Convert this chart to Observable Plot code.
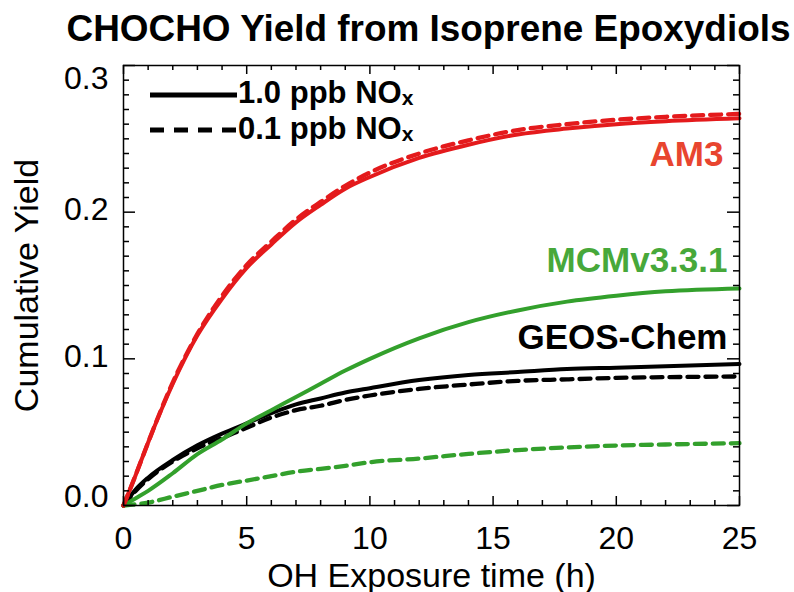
<!DOCTYPE html>
<html><head><meta charset="utf-8">
<script src="https://cdn.jsdelivr.net/npm/d3@7"></script>
<script src="https://cdn.jsdelivr.net/npm/@observablehq/plot@0.6"></script>
<style>body{margin:0;background:#fff;}</style>
</head><body><div id="chart"></div>
<script>
// ---- data ----
const titleText = "CHOCHO Yield from Isoprene Epoxydiols";
const xLabel = "OH Exposure time (h)";
const yLabel = "Cumulative Yield";
const times = [0, 0.5, 1, 2, 3, 4, 5, 6, 7, 8, 9, 10, 12, 14, 16, 18, 20, 22, 25];
const am3High  = [0, 0.021, 0.043, 0.083, 0.116, 0.141, 0.162, 0.178, 0.193, 0.205, 0.216, 0.224, 0.237, 0.246, 0.253, 0.257, 0.260, 0.262, 0.264];
const am3Low   = [0, 0.021, 0.043, 0.084, 0.117, 0.143, 0.164, 0.180, 0.195, 0.207, 0.218, 0.227, 0.240, 0.249, 0.256, 0.260, 0.263, 0.265, 0.267];
const mcmHigh  = [0, 0.005, 0.010, 0.022, 0.035, 0.045, 0.056, 0.065, 0.074, 0.083, 0.092, 0.100, 0.114, 0.125, 0.133, 0.139, 0.143, 0.146, 0.148];
const mcmLow   = [0, 0.0008, 0.002, 0.006, 0.010, 0.014, 0.017, 0.020, 0.023, 0.025, 0.027, 0.0295, 0.032, 0.0352, 0.0378, 0.0396, 0.0409, 0.0416, 0.0425];
const geosHigh = [0, 0.011, 0.019, 0.031, 0.041, 0.049, 0.056, 0.063, 0.069, 0.073, 0.077, 0.080, 0.0855, 0.089, 0.091, 0.093, 0.094, 0.095, 0.0965];
const geosLow  = [0, 0.010, 0.018, 0.030, 0.039, 0.046, 0.053, 0.060, 0.065, 0.068, 0.072, 0.075, 0.0795, 0.0825, 0.085, 0.086, 0.087, 0.0875, 0.088];
const modelNames = ["AM3", "MCMv3.3.1", "GEOS-Chem"];
const legendLabels = ["1.0 ppb NO", "0.1 ppb NO"];
const legendSub = "x";
const xMajor = [0, 5, 10, 15, 20, 25];
const yMajor = [0.0, 0.1, 0.2, 0.3];

// ---- styles / layout ----
const RED = "#e41a1c", GREEN = "#33a02c", BLACK = "#000";
const RED_LABEL = "#e8452f", GREEN_LABEL = "#47a83a";
const DASH = "11,7";
const FONT = "'Liberation Sans', Arial, Helvetica, sans-serif";
const W = 794, H = 592, ML = 123, MR = 55, MT = 65, MB = 87;
const X_DOMAIN = [0, 25], Y_DOMAIN = [0, 0.3];
// tick lengths expressed in data units per pixel of the frame
const PX_X = (X_DOMAIN[1] - X_DOMAIN[0]) / (W - ML - MR);
const PX_Y = (Y_DOMAIN[1] - Y_DOMAIN[0]) / (H - MT - MB);
const TICK_W = 1.5;

const series = [
  {name: "GEOS-Chem high", values: geosHigh, color: BLACK, dash: null},
  {name: "GEOS-Chem low",  values: geosLow,  color: BLACK, dash: DASH},
  {name: "MCM high",       values: mcmHigh,  color: GREEN, dash: null},
  {name: "MCM low",        values: mcmLow,   color: GREEN, dash: DASH},
  {name: "AM3 high",       values: am3High,  color: RED,   dash: null},
  {name: "AM3 low",        values: am3Low,   color: RED,   dash: DASH}
];
const rows = series.flatMap(s => times.map((t, i) => ({t, v: s.values[i], name: s.name})));

const xMinor = d3.range(0, 26).filter(d => !xMajor.includes(d));
const yMinor = d3.range(1, 30).filter(d => d % 10 !== 0).map(d => d / 100);
const xTickRows = [...xMajor.map(v => ({v, len: 9})), ...xMinor.map(v => ({v, len: 5}))];
const yTickRows = [...yMajor.map(v => ({v, len: 12})), ...yMinor.map(v => ({v, len: 6}))];

const chart = Plot.plot({
  width: W, height: H,
  marginLeft: ML, marginRight: MR, marginTop: MT, marginBottom: MB,
  style: {fontFamily: FONT, background: "#fff", color: "#000"},
  x: {domain: X_DOMAIN},
  y: {domain: Y_DOMAIN},
  marks: [
    // lines
    ...series.map(s => Plot.line(rows.filter(r => r.name === s.name), {
      x: "t", y: "v", stroke: s.color, strokeWidth: s.dash ? 4.3 : 4,
      strokeDasharray: s.dash, curve: "monotone-x"
    })),
    // inward ticks on all four sides (rules in data space)
    Plot.ruleX(xTickRows, {x: "v", y1: Y_DOMAIN[0], y2: d => Y_DOMAIN[0] + d.len * PX_Y, stroke: "#000", strokeWidth: TICK_W}),
    Plot.ruleX(xTickRows, {x: "v", y1: Y_DOMAIN[1], y2: d => Y_DOMAIN[1] - d.len * PX_Y, stroke: "#000", strokeWidth: TICK_W}),
    Plot.ruleY(yTickRows, {y: "v", x1: X_DOMAIN[0], x2: d => X_DOMAIN[0] + d.len * PX_X, stroke: "#000", strokeWidth: TICK_W}),
    Plot.ruleY(yTickRows, {y: "v", x1: X_DOMAIN[1], x2: d => X_DOMAIN[1] - d.len * PX_X, stroke: "#000", strokeWidth: TICK_W}),
    // tick labels
    Plot.axisX({anchor: "bottom", ticks: xMajor, tickSize: 0, tickPadding: 21, fontSize: 32, label: null, tickFormat: d => String(d)}),
    Plot.axisY({anchor: "left", ticks: [yMajor[1], yMajor[2]], tickSize: 0, tickPadding: 15, fontSize: 32, dy: -2, label: null, tickFormat: d3.format(".1f")}),
    Plot.axisY({anchor: "left", ticks: [yMajor[3]], tickSize: 0, tickPadding: 15, fontSize: 32, dy: 13, label: null, tickFormat: d3.format(".1f")}),
    Plot.axisY({anchor: "left", ticks: [yMajor[0]], tickSize: 0, tickPadding: 15, fontSize: 32, dy: -9, label: null, tickFormat: d3.format(".1f")}),
    Plot.frame({stroke: "#000", strokeWidth: 1.5}),
    // axis titles
    Plot.text([xLabel], {frameAnchor: "bottom", dy: 81, lineAnchor: "bottom", textAnchor: "middle", fontSize: 34, fill: "#000"}),
    Plot.text([yLabel], {frameAnchor: "left", dx: -86, rotate: -90, lineAnchor: "bottom", textAnchor: "middle", fontSize: 34, fill: "#000"}),
    // chart title
    Plot.text([titleText], {frameAnchor: "top-left", dx: -57, dy: -25, lineAnchor: "bottom", textAnchor: "start", fontSize: 37, fontWeight: "bold", fill: "#000"}),
    // curve labels
    Plot.text([modelNames[0]], {frameAnchor: "top-right", dx: -16, dy: 100, lineAnchor: "bottom", textAnchor: "end", fontSize: 35, fontWeight: "bold", fill: RED_LABEL}),
    Plot.text([modelNames[1]], {frameAnchor: "top-right", dx: -12, dy: 206, lineAnchor: "bottom", textAnchor: "end", fontSize: 35, fontWeight: "bold", fill: GREEN_LABEL}),
    Plot.text([modelNames[2]], {frameAnchor: "top-right", dx: -12, dy: 283, lineAnchor: "bottom", textAnchor: "end", fontSize: 35, fontWeight: "bold", fill: BLACK})
  ]
});
document.getElementById("chart").appendChild(chart);

const svg = d3.select(chart);

// legend (top-left inside the frame)
const lg = svg.append("g").attr("class", "legend").attr("font-family", FONT).attr("text-anchor", "start");
const legendStyles = [null, "14,10"];
legendLabels.forEach((lab, i) => {
  const yy = 95 + i * 35;
  lg.append("line").attr("x1", 150).attr("x2", 237).attr("y1", yy).attr("y2", yy)
    .attr("stroke", "#000").attr("stroke-width", 5)
    .attr("stroke-dasharray", legendStyles[i]);
  const t = lg.append("text").attr("x", 238).attr("y", yy + 8 + i * 1)
    .attr("text-anchor", "start")
    .attr("font-size", 31).attr("font-weight", "bold").attr("fill", "#000");
  t.append("tspan").text(lab);
  t.append("tspan").attr("font-size", 21).attr("dy", 2).text(legendSub);
});

// fit the title to the reference width
svg.selectAll("text").filter(function() { return this.textContent === titleText; })
  .attr("textLength", 724).attr("lengthAdjust", "spacingAndGlyphs");
</script></body></html>
